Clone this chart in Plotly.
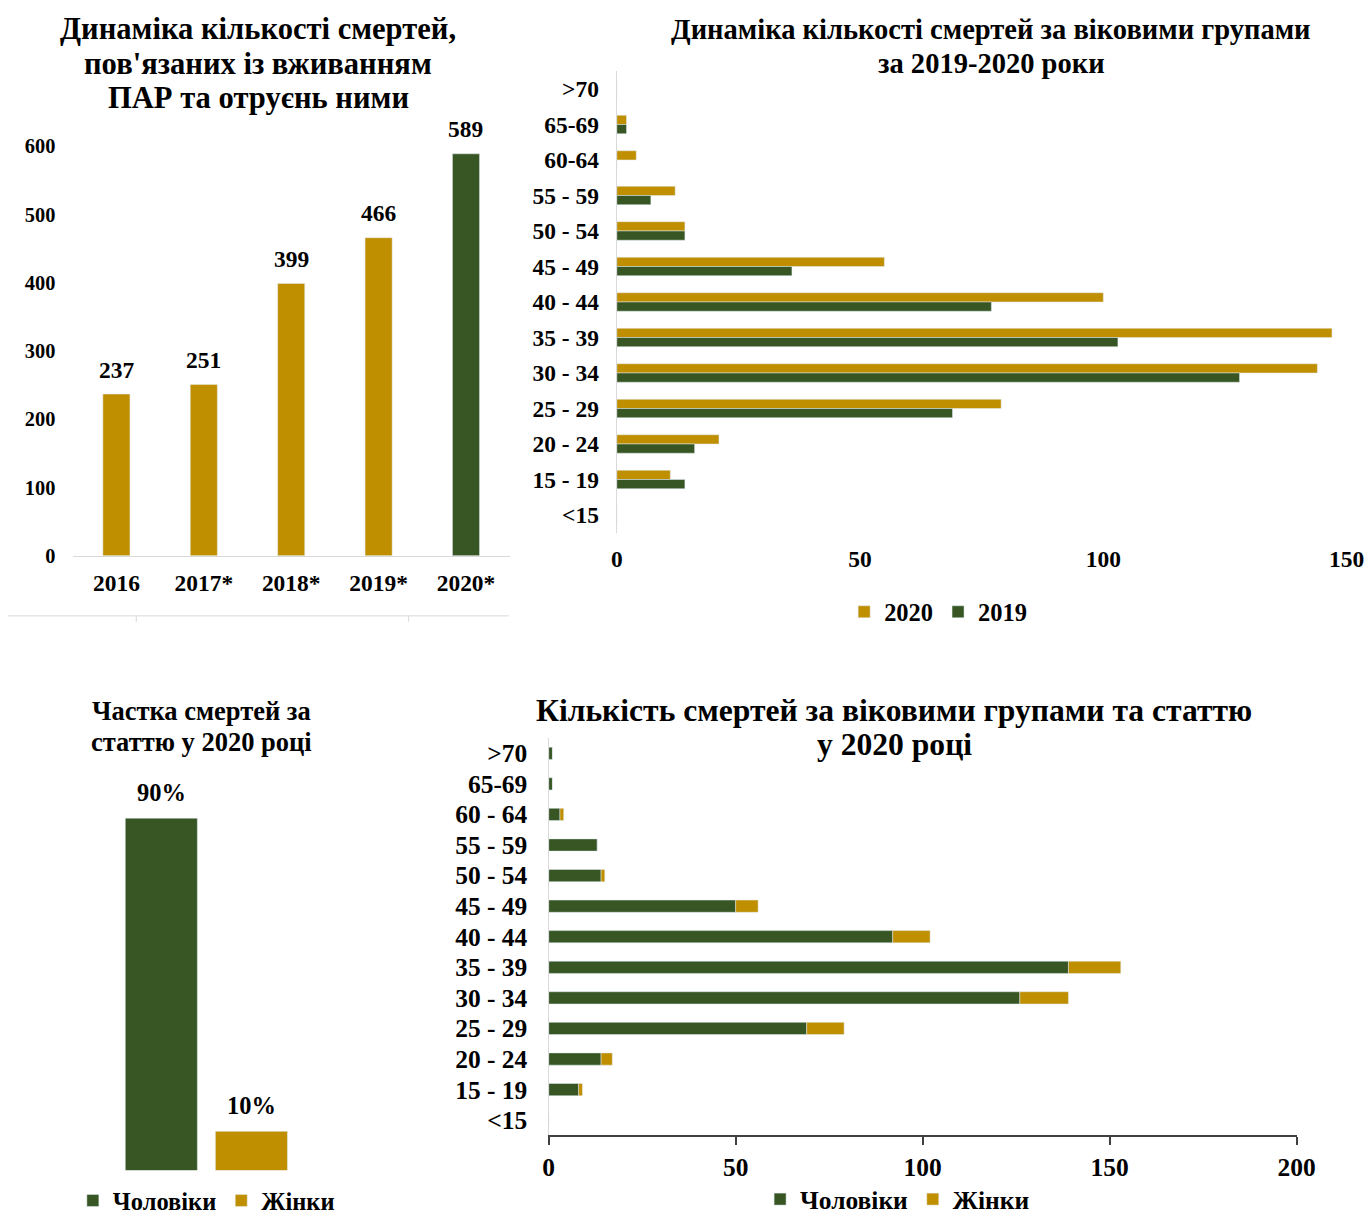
import plotly.graph_objects as go

# ---------- data ----------
years = ["2016", "2017*", "2018*", "2019*", "2020*"]
deaths_total = [237, 251, 399, 466, 589]

ages_top = [">70", "65-69", "60-64", "55 - 59", "50 - 54", "45 - 49", "40 - 44",
            "35 - 39", "30 - 34", "25 - 29", "20 - 24", "15 - 19", "<15"]
deaths_2020 = [0, 2, 4, 12, 14, 55, 100, 147, 144, 79, 21, 11, 0]
deaths_2019 = [0, 2, 0, 7, 14, 36, 77, 103, 128, 69, 16, 14, 0]

sex_labels = ["Чоловіки", "Жінки"]
sex_share = [90, 10]

ages_bottom = [">70", "65-69", "60 - 64", "55 - 59", "50 - 54", "45 - 49", "40 - 44",
               "35 - 39", "30 - 34", "25 - 29", "20 - 24", "15 - 19", "<15"]
male_2020 = [1, 1, 3, 13, 14, 50, 92, 139, 126, 69, 14, 8, 0]
female_2020 = [0, 0, 1, 0, 1, 6, 10, 14, 13, 10, 3, 1, 0]

# ---------- style / geometry ----------
GOLD = "#BF8F00"
GREEN = "#375623"
FONT = "Liberation Serif"
S = 0.981                  # observed capture scale
M = 8                      # page margin around the figure
DY = 4                     # observed vertical drift
FW, FH = 1392, 1232
TRANSP = "rgba(0,0,0,0)"


def fx(p):
    return (p / S - M) / FW


def fy(p):
    return 1 - ((p - DY) / S - M) / FH


def fs(size):
    return size / S


def bfont(size):
    return dict(family=FONT, size=fs(size), color="#000", weight="bold")


fig = go.Figure()

# Top-left: totals by year
fig.add_trace(go.Bar(
    x=years, y=deaths_total, xaxis="x", yaxis="y",
    marker_color=[GOLD, GOLD, GOLD, GOLD, GREEN], width=0.31, showlegend=False,
))
for i, val in enumerate(deaths_total):
    fig.add_annotation(x=i, y=val, xref="x", yref="y", text=str(val), showarrow=False,
                       yanchor="middle", yshift=fs(24), font=bfont(23))

# Top-right: by age group 2020 vs 2019
fig.add_trace(go.Bar(
    y=ages_top, x=deaths_2020, orientation="h", xaxis="x2", yaxis="y2",
    marker_color=GOLD, width=0.26, offset=-0.26, name="2020", legend="legend",
))
fig.add_trace(go.Bar(
    y=ages_top, x=deaths_2019, orientation="h", xaxis="x2", yaxis="y2",
    marker_color=GREEN, width=0.26, offset=0.0, name="2019", legend="legend",
))

# Bottom-left: share by sex
for i, (lab, val, col) in enumerate(zip(sex_labels, sex_share, [GREEN, GOLD])):
    fig.add_trace(go.Bar(
        x=[lab], y=[val], xaxis="x3", yaxis="y3",
        marker_color=col, width=0.8, name=lab, legend="legend2",
    ))
    fig.add_annotation(x=i, y=val, xref="x3", yref="y3", text=f"{val}%", showarrow=False,
                       yanchor="middle", yshift=fs(25), font=bfont(24))

# Bottom-right: by age & sex 2020 (stacked)
fig.add_trace(go.Bar(
    y=ages_bottom, x=male_2020, orientation="h", xaxis="x4", yaxis="y4",
    marker_color=GREEN, width=0.4, name="Чоловіки", legend="legend3",
))
fig.add_trace(go.Bar(
    y=ages_bottom, x=female_2020, base=male_2020, orientation="h", xaxis="x4", yaxis="y4",
    marker_color=GOLD, width=0.4, name="Жінки", legend="legend3",
))

fig.update_layout(
    width=FW, height=FH, margin=dict(l=0, r=0, t=0, b=0),
    paper_bgcolor="white", plot_bgcolor="white",
    barmode="overlay",
    font=dict(family=FONT, color="#000"),
    # top-left
    xaxis=dict(type="category", categoryorder="array", categoryarray=years,
               range=[-0.5, len(years) - 0.5],
               domain=[fx(74.5), fx(511)], anchor="y", showgrid=False,
               showline=True, linecolor="#d9d9d9", linewidth=1,
               ticks="outside", ticklen=fs(6), tickcolor=TRANSP, tickfont=bfont(23)),
    yaxis=dict(domain=[fy(556), fy(147)], anchor="x", range=[0, 600],
               dtick=100, showgrid=False, zeroline=False, showline=False,
               ticks="outside", ticklen=fs(12), tickcolor=TRANSP, tickfont=bfont(20)),
    # top-right
    xaxis2=dict(domain=[fx(618), fx(1347)], anchor="y2", range=[0, 150],
                dtick=50, showgrid=False, zeroline=False, showline=False,
                ticks="outside", ticklen=fs(5), tickcolor=TRANSP, tickfont=bfont(23)),
    yaxis2=dict(type="category", domain=[fy(533), fy(72)], anchor="x2", autorange="reversed",
                tickmode="array", tickvals=ages_top,
                showgrid=False, showline=True, linecolor="#d9d9d9", linewidth=1,
                ticks="outside", ticklen=fs(12), tickcolor=TRANSP, tickfont=bfont(23)),
    # bottom-left
    xaxis3=dict(type="category", range=[-0.5, len(sex_labels) - 0.5],
                domain=[fx(118), fx(298)], anchor="y3", showgrid=False,
                showline=False, showticklabels=False),
    yaxis3=dict(domain=[fy(1170), fy(779)], anchor="x3", range=[0, 100],
                showgrid=False, zeroline=False, showline=False, showticklabels=False),
    # bottom-right
    xaxis4=dict(domain=[fx(550), fx(1297)], anchor="y4", range=[0, 200],
                dtick=50, showgrid=False, zeroline=False, showline=True,
                linecolor="#404040", linewidth=1.5, ticks="outside", ticklen=fs(8),
                tickcolor="#404040", tickwidth=1.5, tickfont=bfont(25)),
    yaxis4=dict(type="category", domain=[fy(1135), fy(738)], anchor="x4", autorange="reversed",
                tickmode="array", tickvals=ages_bottom,
                showgrid=False, showline=True, linecolor="#d9d9d9", linewidth=1,
                ticks="outside", ticklen=fs(15), tickcolor=TRANSP, tickfont=bfont(25)),
    legend=dict(orientation="h", x=fx(939), y=fy(612), xanchor="center", yanchor="middle",
                font=bfont(24), itemwidth=30, bgcolor=TRANSP),
    legend2=dict(orientation="h", x=fx(208), y=fy(1200), xanchor="center", yanchor="middle",
                 font=bfont(24), itemwidth=30, bgcolor=TRANSP),
    legend3=dict(orientation="h", x=fx(898), y=fy(1199), xanchor="center", yanchor="middle",
                 font=bfont(25), itemwidth=30, bgcolor=TRANSP),
)

# titles (one annotation per line to control line spacing)
title_lines = [
    ("Динаміка кількості смертей,", 260, 30, 30),
    ("пов'язаних із вживанням", 260, 65, 30),
    ("ПАР та отруєнь ними", 260, 99, 30),
    ("Динаміка кількості смертей за віковими групами", 992, 30, 28),
    ("за 2019-2020 роки", 992, 64, 28),
    ("Частка смертей за", 203, 711, 26),
    ("статтю у 2020 році", 203, 742, 26),
    ("Кількість смертей за віковими групами та статтю", 895, 711, 31),
    ("у 2020 році", 895, 744, 31),
]
for txt, xp, yp, sz in title_lines:
    fig.add_annotation(text=txt, x=fx(xp), y=fy(yp), xref="paper", yref="paper",
                       xanchor="center", yanchor="middle", showarrow=False,
                       font=bfont(sz))

# decorative separator line under the first chart
fig.add_shape(type="line", xref="paper", yref="paper",
              x0=fx(10), x1=fx(510), y0=fy(616), y1=fy(616),
              line=dict(color="#d9d9d9", width=1))
for xp in (138, 410):
    fig.add_shape(type="line", xref="paper", yref="paper",
                  x0=fx(xp), x1=fx(xp), y0=fy(616), y1=fy(622),
                  line=dict(color="#d9d9d9", width=1))

fig.write_html("out.html")
